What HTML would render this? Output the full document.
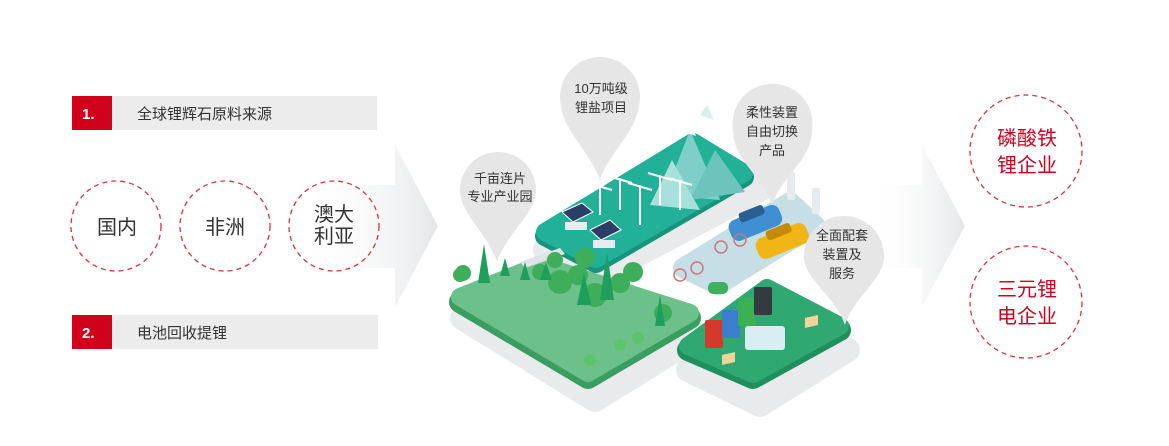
<!DOCTYPE html>
<html><head><meta charset="utf-8"><style>
html,body{margin:0;padding:0;background:#fff;}
svg{display:block;font-family:"Liberation Sans","Noto Sans CJK SC",sans-serif;}
</style></head><body>
<svg width="1169" height="446" viewBox="0 0 1169 446" xmlns="http://www.w3.org/2000/svg">
<defs>
<linearGradient id="ag" x1="0" x2="1" y1="0" y2="0">
<stop offset="0" stop-color="#fff" stop-opacity="0"/><stop offset="1" stop-color="#e4e6e8"/></linearGradient>
</defs>
<polygon points="300,185 395,185 395,145 438,226 395,307 395,268 300,268" fill="url(#ag)"/>
<polygon points="870,185 922,185 922,145 965,226 922,307 922,268 870,268" fill="url(#ag)"/>

<rect x="72" y="96" width="305" height="34" fill="#ececec"/>
<rect x="72" y="96" width="40" height="34" fill="#d0021b"/>
<text x="82" y="119" fill="#fff" font-size="15" font-weight="bold">1.</text>
<text x="137" y="119" fill="#333" font-size="15">全球锂辉石原料来源</text>
<rect x="72" y="315" width="306" height="34" fill="#ececec"/>
<rect x="72" y="315" width="40" height="34" fill="#d0021b"/>
<text x="82" y="338" fill="#fff" font-size="15" font-weight="bold">2.</text>
<text x="137" y="338" fill="#333" font-size="15">电池回收提锂</text>

<g fill="none" stroke="#e0303c" stroke-width="1.3" stroke-dasharray="5,4">
<circle cx="116" cy="226" r="45"/><circle cx="225" cy="226" r="45"/><circle cx="334" cy="226" r="45"/>
<circle cx="1026" cy="151" r="56"/><circle cx="1026" cy="302" r="56"/>
</g>
<g fill="#333" font-size="20" text-anchor="middle">
<text x="117" y="234">国内</text><text x="225" y="234">非洲</text>
<text x="334" y="221">澳大</text><text x="334" y="243">利亚</text>
</g>
<g fill="#d0021b" font-size="20" text-anchor="middle">
<text x="1027" y="145">磷酸铁</text><text x="1027" y="172">锂企业</text>
<text x="1027" y="296">三元锂</text><text x="1027" y="323">电企业</text>
</g>

<!-- shadows -->
<g fill="#e8eaeb" stroke="#e8eaeb" stroke-width="24" stroke-linejoin="round">
<polygon points="462,318 545,285 700,335 595,400"/>
<polygon points="688,370 770,305 848,350 760,405"/>
<polygon points="545,250 700,160 760,190 600,275"/>
</g>
<g stroke-linejoin="round">
<!-- teal -->
<polygon points="545,236 693,146 744,177 596,263" fill="#16947c" stroke="#16947c" stroke-width="20"/>
<polygon points="545,232 693,142 744,173 596,259" fill="#22b198" stroke="#22b198" stroke-width="18"/>
<!-- light blue -->
<polygon points="683,268 790,202 815,225 718,285" fill="#c6dee6" stroke="#c6dee6" stroke-width="20"/>
<!-- park -->
<polygon points="460,302 540,270 690,318 588,378" fill="#3a9e60" stroke="#3a9e60" stroke-width="22"/>
<polygon points="460,297 540,265 690,313 588,373" fill="#6cc08a" stroke="#6cc08a" stroke-width="18"/>
<!-- recycling -->
<polygon points="688,350 767,292 840,330 753,378" fill="#1f8f5e" stroke="#1f8f5e" stroke-width="22"/>
<polygon points="688,346 767,288 840,326 753,374" fill="#2fa872" stroke="#2fa872" stroke-width="18"/>
</g>
<polygon points="520,262 560,248 565,254 525,268" fill="#dfe3e5"/>
<!-- mountains -->
<polygon points="665,195 690,130 720,200" fill="#7fcfc8"/>
<polygon points="690,200 715,150 745,192" fill="#6cc4bd"/>
<polygon points="650,205 672,160 700,210" fill="#a8e0dc"/>
<polygon points="684,132 690,122 696,136" fill="#fff"/>
<polygon points="700,115 707,105 714,120" fill="#d6f0ee"/>
<!-- turbines -->
<g stroke="#fff" stroke-width="2">
<line x1="600" y1="185" x2="600" y2="215"/><line x1="620" y1="178" x2="620" y2="210"/>
<line x1="640" y1="185" x2="640" y2="225"/><line x1="660" y1="175" x2="660" y2="205"/>
<line x1="680" y1="180" x2="680" y2="210"/><line x1="588" y1="183" x2="612" y2="190"/>
<line x1="608" y1="176" x2="632" y2="183"/><line x1="628" y1="183" x2="652" y2="190"/>
<line x1="648" y1="173" x2="672" y2="180"/><line x1="668" y1="178" x2="692" y2="185"/>
</g>
<polygon points="562,212 582,203 593,212 573,222" fill="#2c3e66" stroke="#fff"/>
<polygon points="590,230 610,220 621,230 601,240" fill="#2c3e66" stroke="#fff"/>
<rect x="565" y="222" width="22" height="8" fill="#e8ecee"/>
<rect x="593" y="240" width="22" height="8" fill="#e8ecee"/>
<!-- cars -->
<g transform="rotate(-22 755 222)">
<rect x="728" y="212" width="54" height="22" rx="8" fill="#3f8fd2"/>
<rect x="742" y="208" width="26" height="10" rx="3" fill="#2a5f94"/>
</g>
<g transform="rotate(-22 782 240)">
<rect x="755" y="230" width="54" height="22" rx="8" fill="#f2b518"/>
<rect x="769" y="226" width="26" height="10" rx="3" fill="#c48b0a"/>
</g>
<rect x="787" y="172" width="8" height="28" rx="2" fill="#e6ecee"/>
<rect x="812" y="188" width="8" height="26" rx="2" fill="#e6ecee"/>
<circle cx="721" cy="247" r="6" fill="none" stroke="#c77" stroke-width="1.5"/>
<circle cx="740" cy="240" r="6" fill="none" stroke="#c77" stroke-width="1.5"/>
<circle cx="680" cy="275" r="6" fill="none" stroke="#c77" stroke-width="1.5"/>
<circle cx="697" cy="268" r="6" fill="none" stroke="#c77" stroke-width="1.5"/>
<rect x="708" y="282" width="20" height="12" rx="5" fill="#3fb15e"/>
<!-- trees -->
<g fill="#3fae5a">
<circle cx="463" cy="273" r="8"/><circle cx="560" cy="282" r="12"/><circle cx="595" cy="295" r="12"/>
<circle cx="620" cy="283" r="10"/><circle cx="633" cy="272" r="10"/><circle cx="663" cy="313" r="9"/>
<circle cx="585" cy="258" r="10"/><circle cx="540" cy="272" r="8"/><circle cx="578" cy="275" r="10"/>
<circle cx="555" cy="260" r="8"/><circle cx="460" cy="275" r="7"/>
</g>
<g fill="#1f9f5c">
<polygon points="478,283 484,244 490,283"/><polygon points="500,276 505,258 510,276"/>
<polygon points="600,300 607,252 614,300"/><polygon points="577,305 584,272 591,305"/>
<polygon points="655,326 660,295 665,326"/><polygon points="520,280 525,262 530,280"/>
<polygon points="540,280 546,262 552,280"/>
</g>
<circle cx="638" cy="338" r="6" fill="#5cc46a"/><circle cx="620" cy="345" r="6" fill="#5cc46a"/>
<circle cx="590" cy="360" r="6" fill="#5cc46a"/>
<!-- bins -->
<rect x="705" y="320" width="18" height="28" rx="2" fill="#d33a2c"/>
<rect x="722" y="310" width="18" height="28" rx="2" fill="#3c7fd1"/>
<rect x="738" y="298" width="18" height="28" rx="2" fill="#3bb055"/>
<rect x="754" y="287" width="18" height="28" rx="2" fill="#333a40"/>
<rect x="745" y="326" width="40" height="24" rx="3" fill="#d8eef2"/>
<polygon points="722,355 735,352 735,362 722,365" fill="#f0d49a"/>
<polygon points="805,318 818,315 818,325 805,328" fill="#f0d49a"/>

<g fill="#e6e6e6">
<path d="M600,180 C590,150 560,130 560,97 A40,40 0 1 1 640,97 C640,130 610,150 600,180Z"/>
<path d="M497,262 C487,232 460,214 460,190 A38,38 0 1 1 536,190 C536,214 507,232 497,262Z"/>
<path d="M772,205 C762,175 733,160 733,130 A40,40 0 1 1 812,130 C812,160 782,175 772,205Z"/>
<path d="M845,325 C835,295 804,280 804,256 A40,40 0 1 1 884,256 C884,280 855,295 845,325Z"/>
</g>
<g fill="#333" font-size="13" text-anchor="middle">
<text x="601" y="93">10万吨级</text><text x="601" y="112">锂盐项目</text>
<text x="500" y="183">千亩连片</text><text x="500" y="201">专业产业园</text>
<text x="772" y="117">柔性装置</text><text x="772" y="136">自由切换</text><text x="772" y="155">产品</text>
<text x="842" y="240">全面配套</text><text x="842" y="259">装置及</text><text x="842" y="278">服务</text>
</g>
</svg>
</body></html>
